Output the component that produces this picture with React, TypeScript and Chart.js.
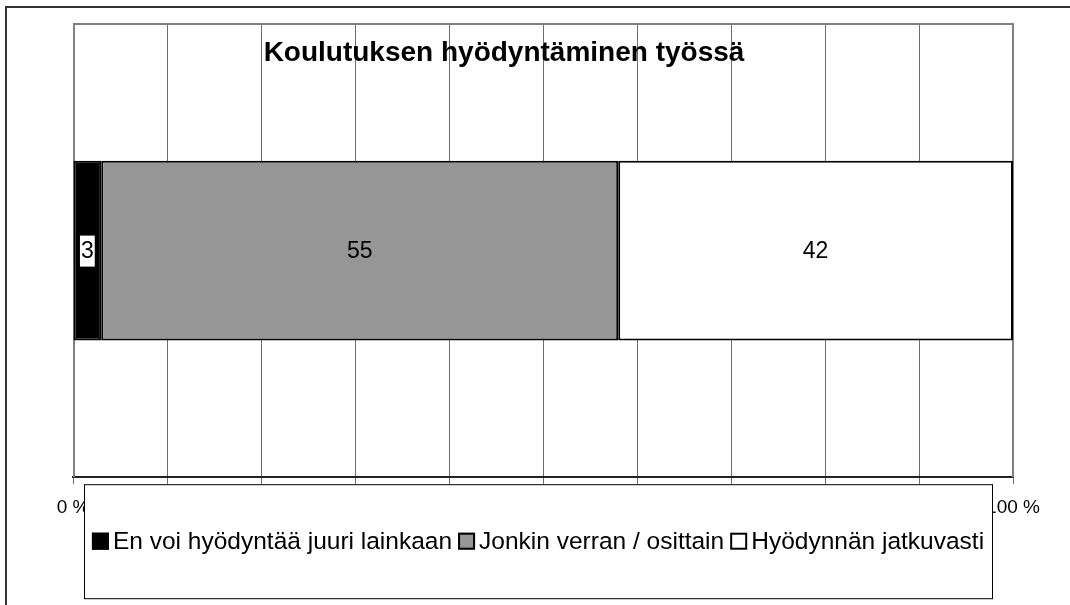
import React, { useEffect, useRef } from "react";
import { Chart, registerables } from "chart.js";

Chart.register(...registerables);

const categories = [""];
const seriesLabels = [
  "En voi hyödyntää juuri lainkaan",
  "Jonkin verran / osittain",
  "Hyödynnän jatkuvasti",
];
const seriesValues = [[3], [55], [42]];
const seriesColors = ["#000000", "#969696", "#ffffff"];
const tickLabels = ["0 %", "10 %", "20 %", "30 %", "40 %", "50 %", "60 %", "70 %", "80 %", "90 %", "100 %"];
const chartTitle = "Koulutuksen hyödyntäminen työssä";

const FONT = "'Liberation Sans', Arial, sans-serif";

const framePlugin = {
  id: "frame",
  beforeDraw(chart: any) {
    const { ctx, width, height } = chart;
    ctx.save();
    ctx.fillStyle = "#ffffff";
    ctx.fillRect(0, 0, width, height);
    ctx.fillStyle = "#333333";
    ctx.fillRect(5, 6, width - 5, 2);
    ctx.fillRect(5, 6, 2, height - 6);
    ctx.restore();
  },
  beforeDatasetsDraw(chart: any) {
    const { ctx, chartArea: ca } = chart;
    ctx.save();
    ctx.strokeStyle = "#808080";
    ctx.lineWidth = 2;
    ctx.beginPath();
    ctx.moveTo(ca.left + 1, ca.bottom);
    ctx.lineTo(ca.left + 1, ca.top);
    ctx.lineTo(ca.right, ca.top);
    ctx.lineTo(ca.right, ca.bottom);
    ctx.stroke();
    ctx.restore();
  },
};

const labelsPlugin = {
  id: "segLabels",
  afterDatasetsDraw(chart: any) {
    const { ctx } = chart;
    ctx.save();
    ctx.font = `23px ${FONT}`;
    ctx.textAlign = "center";
    ctx.textBaseline = "middle";
    chart.data.datasets.forEach((ds: any, i: number) => {
      const meta = chart.getDatasetMeta(i);
      meta.data.forEach((el: any, j: number) => {
        const { x, base, y } = el.getProps(["x", "base", "y"], true);
        const cx = (x + base) / 2;
        const txt = String(ds.data[j]);
        const w = ctx.measureText(txt).width;
        if (ds.backgroundColor === "#000000") {
          ctx.fillStyle = "#ffffff";
          ctx.fillRect(cx - w / 2 - 1, y - 15, w + 2, 31);
        }
        ctx.fillStyle = "#000000";
        ctx.fillText(txt, cx, y + 1);
      });
    });
    ctx.restore();
  },
};

const titlePlugin = {
  id: "customTitle",
  afterDatasetsDraw(chart: any) {
    const { ctx, chartArea: ca } = chart;
    ctx.save();
    ctx.font = `bold 28px ${FONT}`;
    ctx.textAlign = "center";
    ctx.textBaseline = "alphabetic";
    ctx.fillStyle = "#000000";
    ctx.fillText(chartTitle, (ca.left + ca.right) / 2 - 39, ca.top + 37);
    ctx.restore();
  },
};

const legendPlugin = {
  id: "boxLegend",
  afterDraw(chart: any) {
    const { ctx, chartArea: ca } = chart;
    const l = ca.left + 11;
    const t = ca.bottom + 7;
    const r = ca.right - 21;
    const b = ca.bottom + 121;
    ctx.save();
    ctx.fillStyle = "#ffffff";
    ctx.fillRect(l, t, r - l, b - t);
    ctx.strokeStyle = "#000000";
    ctx.lineWidth = 1;
    ctx.strokeRect(l + 0.5, t + 0.5, r - l, b - t);
    ctx.font = `24.5px ${FONT}`;
    ctx.textBaseline = "middle";
    ctx.textAlign = "left";
    const sq = 17;
    const gap = 4;
    const spacing = 6;
    const ds = chart.data.datasets;
    const widths = ds.map((d: any) => sq + gap + ctx.measureText(d.label).width);
    const total = widths.reduce((a: number, c: number) => a + c, 0) + spacing * (ds.length - 1);
    let x = (l + r) / 2 - total / 2;
    const cy = (t + b) / 2;
    ds.forEach((d: any, i: number) => {
      ctx.fillStyle = d.backgroundColor;
      ctx.fillRect(x, cy - sq / 2, sq, sq);
      ctx.strokeStyle = "#000000";
      ctx.lineWidth = 2;
      ctx.strokeRect(x + 1, cy - sq / 2 + 1, sq - 2, sq - 2);
      ctx.fillStyle = "#000000";
      ctx.fillText(d.label, x + sq + gap, cy + 1);
      x += widths[i] + spacing;
    });
    ctx.restore();
  },
};

export default function App() {
  const ref = useRef<HTMLCanvasElement | null>(null);
  useEffect(() => {
    if (!ref.current) return;
    const chart = new Chart(ref.current, {
      type: "bar",
      data: {
        labels: categories,
        datasets: seriesLabels.map((label, i) => ({
          label,
          data: seriesValues[i],
          backgroundColor: seriesColors[i],
          borderColor: "#000000",
          borderWidth: 2,
          borderSkipped: false,
          categoryPercentage: 0.397,
          barPercentage: 1,
        })),
      },
      options: {
        indexAxis: "y",
        animation: false,
        responsive: false,
        devicePixelRatio: 1,
        layout: { padding: { left: 73, right: 57, top: 24, bottom: 74 } },
        plugins: {
          legend: { display: false },
          title: { display: false },
          tooltip: { enabled: false },
        },
        scales: {
          x: {
            stacked: true,
            min: 0,
            max: 100,
            ticks: {
              stepSize: 10,
              color: "#000000",
              font: { family: FONT, size: 19 },
              padding: 12,
              maxRotation: 0,
              autoSkip: false,
              callback: (_v: any, i: number) => tickLabels[i],
            },
            grid: {
              color: "#6e6e6e",
              lineWidth: 1,
              tickLength: 7,
              tickColor: "#6e6e6e",
            },
            border: { color: "#222222", width: 2 },
          },
          y: {
            stacked: true,
            display: false,
          },
        },
      },
      plugins: [framePlugin, labelsPlugin, titlePlugin, legendPlugin],
    } as any);
    return () => chart.destroy();
  }, []);
  return (
    <div style={{ position: "absolute", left: 0, top: 0, width: 1070, height: 605 }}>
      <canvas ref={ref} width={1070} height={605} />
    </div>
  );
}
